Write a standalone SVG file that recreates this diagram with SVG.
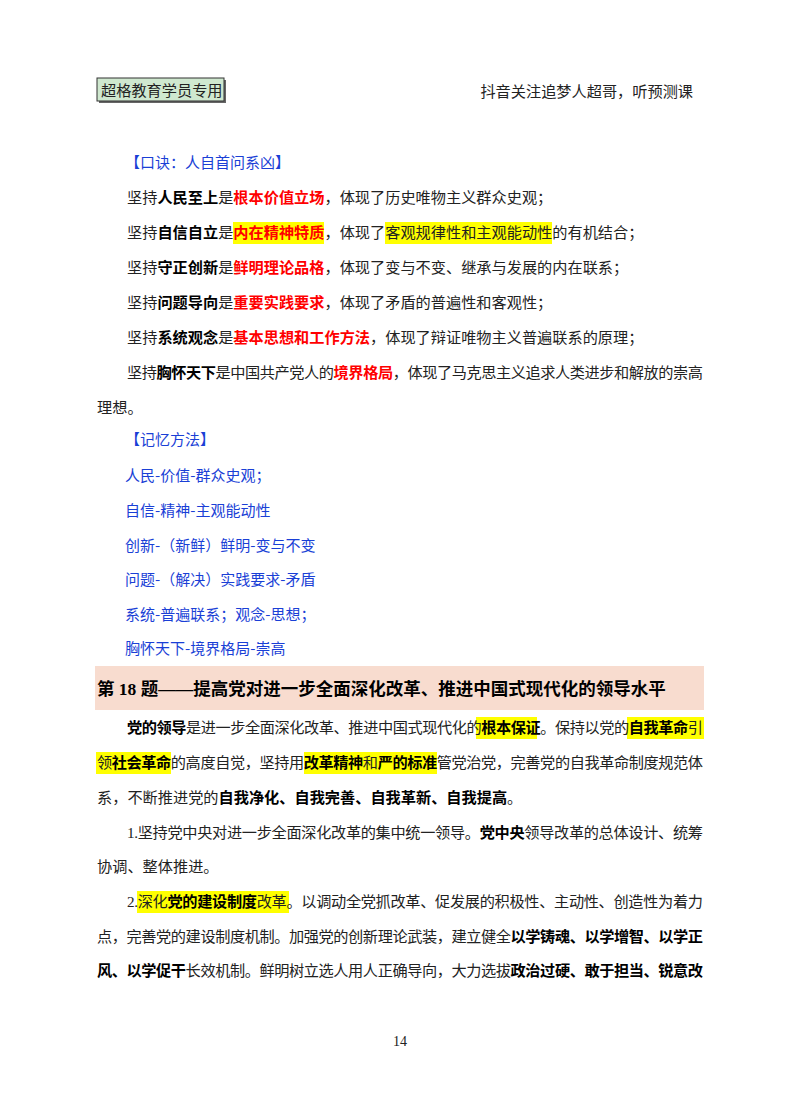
<svg xmlns="http://www.w3.org/2000/svg" width="800" height="1114" viewBox="0 0 800 1114">
<style>
text{font-family:"Liberation Serif","Noto Sans CJK SC",serif;font-size:15.2px;fill:#222}
.b{font-weight:bold;fill:#000}
.r{font-weight:bold;fill:#ff0000}
.bl{font-family:"Noto Sans CJK SC",sans-serif;fill:#1a3fd6;font-size:15px}
.hl{fill:#ffff00}
</style>
<rect width="800" height="1114" fill="#fff"/>
<rect x="99" y="80" width="127" height="23" fill="#666"/>
<rect x="97" y="78" width="127" height="23" fill="#cfe8cf" stroke="#333" stroke-width="1"/>
<text x="101" y="96">超格教育学员专用</text>
<text x="693" y="97" text-anchor="end">抖音关注追梦人超哥，听预测课</text>
<text class="bl" x="125" y="168">【口诀：人自首问系凶】</text>
<rect class="hl" x="233" y="222" width="91" height="22"/>
<rect class="hl" x="385" y="222" width="167" height="22"/>
<text x="127" y="203">坚持<tspan class="b">人民至上</tspan>是<tspan class="r">根本价值立场</tspan>，体现了历史唯物主义群众史观；</text>
<text x="127" y="238">坚持<tspan class="b">自信自立</tspan>是<tspan class="r">内在精神特质</tspan>，体现了客观规律性和主观能动性的有机结合；</text>
<text x="127" y="273">坚持<tspan class="b">守正创新</tspan>是<tspan class="r">鲜明理论品格</tspan>，体现了变与不变、继承与发展的内在联系；</text>
<text x="127" y="308">坚持<tspan class="b">问题导向</tspan>是<tspan class="r">重要实践要求</tspan>，体现了矛盾的普遍性和客观性；</text>
<text x="127" y="343">坚持<tspan class="b">系统观念</tspan>是<tspan class="r">基本思想和工作方法</tspan>，体现了辩证唯物主义普遍联系的原理；</text>
<text x="127" y="378" textLength="576" lengthAdjust="spacing">坚持<tspan class="b">胸怀天下</tspan>是中国共产党人的<tspan class="r">境界格局</tspan>，体现了马克思主义追求人类进步和解放的崇高</text>
<text x="97" y="413">理想。</text>
<text class="bl" x="125" y="445">【记忆方法】</text>
<text class="bl" x="125" y="481">人民-价值-群众史观；</text>
<text class="bl" x="125" y="516">自信-精神-主观能动性</text>
<text class="bl" x="125" y="551">创新-（新鲜）鲜明-变与不变</text>
<text class="bl" x="125" y="585">问题-（解决）实践要求-矛盾</text>
<text class="bl" x="125" y="620">系统-普遍联系；观念-思想；</text>
<text class="bl" x="125" y="654">胸怀天下-境界格局-崇高</text>
<rect x="95" y="666" width="609" height="44" fill="#f8dccf"/>
<text x="97" y="695" class="b" style="font-size:17.5px">第 18 题——提高党对进一步全面深化改革、推进中国式现代化的领导水平</text>
<rect class="hl" x="476" y="717" width="61" height="22"/>
<rect class="hl" x="627" y="717" width="77" height="22"/>
<rect class="hl" x="96" y="752" width="75" height="22"/>
<rect class="hl" x="304" y="752" width="133" height="22"/>
<text x="127" y="733" textLength="576" lengthAdjust="spacing"><tspan class="b">党的领导</tspan>是进一步全面深化改革、推进中国式现代化的<tspan class="b">根本保证</tspan>。保持以党的<tspan class="b">自我革命</tspan>引</text>
<text x="97" y="768" textLength="606" lengthAdjust="spacing">领<tspan class="b">社会革命</tspan>的高度自觉，坚持用<tspan class="b">改革精神</tspan>和<tspan class="b">严的标准</tspan>管党治党，完善党的自我革命制度规范体</text>
<text x="97" y="803">系，不断推进党的<tspan class="b">自我净化、自我完善、自我革新、自我提高</tspan>。</text>
<text x="127" y="838" textLength="576" lengthAdjust="spacing">1.坚持党中央对进一步全面深化改革的集中统一领导。<tspan class="b">党中央</tspan>领导改革的总体设计、统筹</text>
<text x="97" y="872">协调、整体推进。</text>
<rect class="hl" x="137" y="891" width="152" height="22"/>
<text x="127" y="907" textLength="576" lengthAdjust="spacing">2.深化<tspan class="b">党的建设制度</tspan>改革。以调动全党抓改革、促发展的积极性、主动性、创造性为着力</text>
<text x="97" y="942" textLength="606" lengthAdjust="spacing">点，完善党的建设制度机制。加强党的创新理论武装，建立健全<tspan class="b">以学铸魂、以学增智、以学正</tspan></text>
<text x="97" y="976" textLength="606" lengthAdjust="spacing"><tspan class="b">风、以学促干</tspan>长效机制。鲜明树立选人用人正确导向，大力选拔<tspan class="b">政治过硬、敢于担当、锐意改</tspan></text>
<text x="400" y="1046" text-anchor="middle" style="font-size:14px">14</text>
</svg>
